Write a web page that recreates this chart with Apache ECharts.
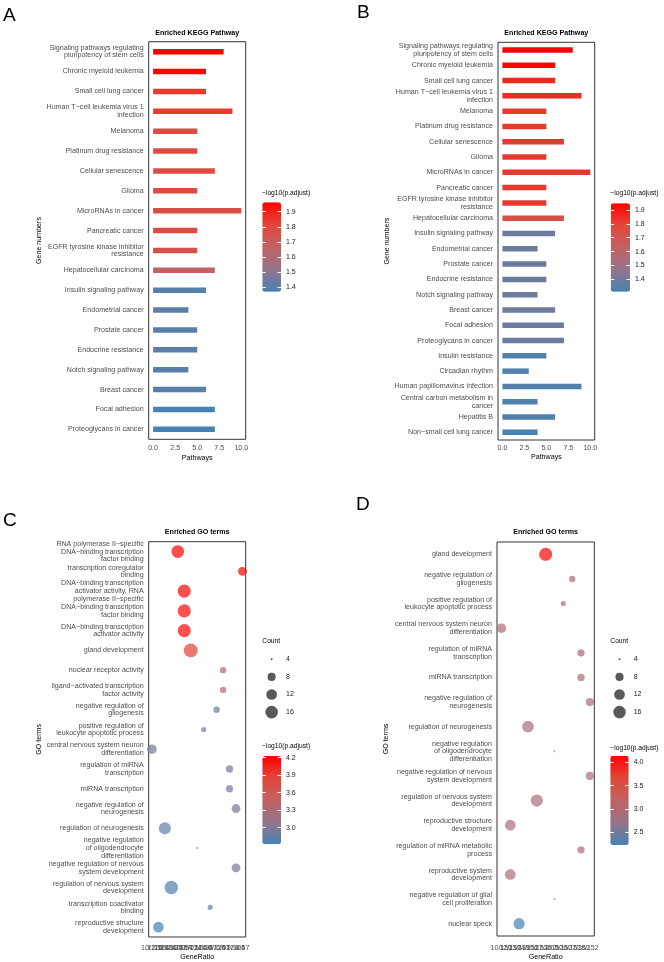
<!DOCTYPE html>
<html>
<head>
<meta charset="utf-8">
<script src="https://cdn.jsdelivr.net/npm/echarts@6/dist/echarts.min.js"></script>
<style>
html, body { margin: 0; padding: 0; background: #fff; }
#main { width: 664px; height: 962px; }
</style>
</head>
<body>
<div id="main"></div>
<script>
// ---- panel A / B : KEGG bars ----
var keggA = ['Signaling pathways regulating\npluripotency of stem cells', 'Chronic myeloid leukemia', 'Small cell lung cancer',
  'Human T\u2212cell leukemia virus 1\ninfection', 'Melanoma', 'Platinum drug resistance', 'Cellular senescence', 'Glioma',
  'MicroRNAs in cancer', 'Pancreatic cancer', 'EGFR tyrosine kinase inhibitor\nresistance', 'Hepatocellular carcinoma',
  'Insulin signaling pathway', 'Endometrial cancer', 'Prostate cancer', 'Endocrine resistance', 'Notch signaling pathway',
  'Breast cancer', 'Focal adhesion', 'Proteoglycans in cancer'];
var countA = [8, 6, 6, 9, 5, 5, 7, 5, 10, 5, 5, 7, 6, 4, 5, 5, 4, 6, 7, 7];
var padjA = [1.962, 1.955, 1.84, 1.84, 1.78, 1.78, 1.78, 1.78, 1.78, 1.78, 1.76, 1.68, 1.40, 1.405, 1.41, 1.41, 1.41, 1.40, 1.371, 1.371];

var keggB = keggA.concat(['Insulin resistance', 'Circadian rhythm', 'Human papillomavirus infection',
  'Central carbon metabolism in\ncancer', 'Hepatitis B', 'Non\u2212small cell lung cancer']);
var countB = [8, 6, 6, 9, 5, 5, 7, 5, 10, 5, 5, 7, 6, 4, 5, 5, 4, 6, 7, 7, 5, 3, 9, 4, 6, 4];
var padjB = [1.948, 1.945, 1.86, 1.85, 1.82, 1.82, 1.82, 1.82, 1.82, 1.82, 1.82, 1.74, 1.39, 1.39, 1.39, 1.39, 1.39, 1.39, 1.39, 1.39,
  1.335, 1.335, 1.335, 1.335, 1.335, 1.311];
var pathwayTicks = [0, 2.5, 5, 7.5, 10];

// ---- panel C / D : GO dots ----
var goC = ['RNA polymerase II\u2212specific\nDNA\u2212binding transcription\nfactor binding', 'transcription coregulator\nbinding',
  'DNA\u2212binding transcription\nactivator activity, RNA\npolymerase II\u2212specific', 'DNA\u2212binding transcription\nfactor binding',
  'DNA\u2212binding transcription\nactivator activity', 'gland development', 'nuclear receptor activity',
  'ligand\u2212activated transcription\nfactor activity', 'negative regulation of\ngliogenesis',
  'positive regulation of\nleukocyte apoptotic process', 'central nervous system neuron\ndifferentiation',
  'regulation of miRNA\ntranscription', 'miRNA transcription', 'negative regulation of\nneurogenesis',
  'regulation of neurogenesis', 'negative regulation\nof oligodendrocyte\ndifferentiation',
  'negative regulation of nervous\nsystem development', 'regulation of nervous system\ndevelopment',
  'transcription coactivator\nbinding', 'reproductive structure\ndevelopment'];
var ratioTicksC = ['10/124', '12/124', '15/124', '18/124', '16/57', '17/57', '19/124', '4/124', '5/124', '5/57', '6/124', '6/57', '7/124', '9/124', '9/57'];
var ratioC = ['16/57', '9/57', '17/57', '17/57', '17/57', '19/124', '6/57', '6/57', '6/124', '5/124', '10/124', '7/124', '7/124',
  '9/124', '15/124', '4/124', '9/124', '18/124', '5/57', '12/124'];
var countC = [16, 9, 17, 17, 17, 19, 6, 6, 6, 5, 10, 7, 7, 9, 15, 4, 9, 18, 5, 12];
var padjC = [4.229, 4.22, 4.2, 4.2, 4.2, 3.9, 3.4, 3.4, 2.9, 2.88, 2.95, 2.95, 2.95, 2.95, 2.85, 2.85, 2.95, 2.78, 2.78, 2.715];

var goD = ['gland development', 'negative regulation of\ngliogenesis', 'positive regulation of\nleukocyte apoptotic process',
  'central nervous system neuron\ndifferentiation', 'regulation of miRNA\ntranscription', 'miRNA transcription',
  'negative regulation of\nneurogenesis', 'regulation of neurogenesis', 'negative regulation\nof oligodendrocyte\ndifferentiation',
  'negative regulation of nervous\nsystem development', 'regulation of nervous system\ndevelopment',
  'reproductive structure\ndevelopment', 'regulation of miRNA metabolic\nprocess', 'reproductive system\ndevelopment',
  'negative regulation of glial\ncell proliferation', 'nuclear speck'];
var ratioTicksD = ['10/152', '12/152', '13/139', '14/152', '15/152', '17/152', '4/152', '5/152', '6/152', '7/152', '8/152'];
var ratioD = ['17/152', '6/152', '5/152', '10/152', '7/152', '7/152', '8/152', '14/152', '4/152', '8/152', '15/152', '12/152',
  '7/152', '12/152', '4/152', '13/139'];
var countD = [17, 6, 5, 10, 7, 7, 8, 14, 4, 8, 15, 12, 7, 12, 4, 13];
var padjD = [4.141, 2.95, 2.95, 2.93, 2.95, 2.95, 2.93, 2.92, 2.93, 2.93, 2.92, 2.92, 2.93, 2.92, 2.93, 2.228];

var sizeBreaks = [4, 8, 12, 16];
var ticksAB = [1.4, 1.5, 1.6, 1.7, 1.8, 1.9];
var ticksC = [3.0, 3.3, 3.6, 3.9, 4.2];
var ticksD = [2.5, 3.0, 3.5, 4.0];

var FONT = 'Liberation Sans, Arial, sans-serif';
var grad = ['#4682B4', '#95748A', '#C16262', '#E2473A', '#FF0000'];
var AX = '#4D4D4D';

function sz(c) { return 2 + 11.5 * Math.sqrt(Math.max(0, c - 4) / 14); }

var chart = echarts.init(document.getElementById('main'));

function box(l, t, w, h) {
  return { left: l, top: t, width: w, height: h, show: true, borderColor: '#333', borderWidth: 1, backgroundColor: 'transparent' };
}
function plain(l, t, w, h) { return { left: l, top: t, width: w, height: h }; }

function catY(gi, data, gap) {
  return {
    gridIndex: gi, type: 'category', data: data, inverse: true,
    name: gi < 2 ? 'Gene numbers' : 'GO terms', nameLocation: 'middle', nameGap: gap,
    nameTextStyle: { fontFamily: FONT, fontSize: 7.1, color: '#000' },
    axisLine: { show: false },
    axisTick: { alignWithLabel: true, length: 3, lineStyle: { color: '#333' } },
    axisLabel: { interval: 0, fontFamily: FONT, fontSize: 7.1, lineHeight: 7.6, color: AX, margin: 5 }
  };
}
function valX(gi, gap, margin) {
  return {
    gridIndex: gi, type: 'value', min: -0.5, max: 10.5, name: 'Pathways', nameLocation: 'middle', nameGap: gap,
    nameTextStyle: { fontFamily: FONT, fontSize: 7.1, color: '#000' },
    axisLine: { show: false }, splitLine: { show: false },
    axisTick: { length: 3, lineStyle: { color: '#333' }, customValues: pathwayTicks },
    axisLabel: { customValues: pathwayTicks, formatter: function (v) { return v.toFixed(1); },
      fontFamily: FONT, fontSize: 7.1, color: AX, margin: margin }
  };
}
function catX(gi, data, gap, margin) {
  return {
    gridIndex: gi, type: 'category', data: data, name: 'GeneRatio', nameLocation: 'middle', nameGap: gap,
    nameTextStyle: { fontFamily: FONT, fontSize: 7.1, color: '#000' },
    axisLine: { show: false },
    axisTick: { alignWithLabel: true, interval: 0, length: 3, lineStyle: { color: '#333' } },
    axisLabel: { interval: 0, fontFamily: FONT, fontSize: 7.1, color: AX, margin: margin }
  };
}
// colour bar tick axes (white ticks on both edges, labels on the right)
function cbAxes(gi, min, max, ticks, dec) {
  var tick = { inside: true, length: 3.5, lineStyle: { color: '#fff', width: 1 }, customValues: ticks };
  return [
    { gridIndex: gi, type: 'value', min: min, max: max, position: 'left', z: 10, axisLine: { show: false },
      splitLine: { show: false }, axisTick: tick, axisLabel: { show: false } },
    { gridIndex: gi, type: 'value', min: min, max: max, position: 'right', z: 10, axisLine: { show: false },
      splitLine: { show: false }, axisTick: tick,
      axisLabel: { customValues: ticks, formatter: function (v) { return v.toFixed(dec); },
        fontFamily: FONT, fontSize: 7, color: '#1a1a1a', margin: 5 } }
  ];
}
function sizeY(gi) {
  return { gridIndex: gi, type: 'category', data: sizeBreaks.map(String), inverse: true, position: 'right',
    axisLine: { show: false }, axisTick: { show: false },
    axisLabel: { fontFamily: FONT, fontSize: 7, color: '#1a1a1a', margin: 5 } };
}
function vmap(si, dim, min, max, l, t, w, h) {
  return { type: 'continuous', seriesIndex: si, dimension: dim, min: min, max: max, calculable: false, hoverLink: false,
    inRange: { color: grad }, itemWidth: w, itemHeight: h, left: l, top: t, padding: 0 };
}
function txt(x, y, s, size, bold, align) {
  return { type: 'text', x: x, y: y, z: 100,
    style: { text: s, fontFamily: FONT, fontSize: size, fontWeight: bold ? 'bold' : 'normal', fill: '#000',
      align: align || 'left', verticalAlign: 'middle' } };
}

var yC = [catY(2, goC, 106.5)], yD = [catY(3, goD, 107)];

var option = {
  animation: false,
  backgroundColor: '#fff',
  grid: [
    box(148.7, 41.7, 97, 397.6), box(498, 42.3, 96.7, 397.7),
    box(148.7, 541.7, 97, 395.3), box(497, 542, 97.3, 394),
    plain(262.3, 650.5, 18.7, 70.4), plain(610.3, 650.5, 18.4, 70.4),
    plain(262.3, 202.3, 18.7, 89.4), plain(610.7, 203.3, 19.3, 88.4),
    plain(262.3, 756, 18.7, 88.3), plain(610.3, 755.7, 18.4, 89.3)
  ],
  xAxis: [
    valX(0, 15, 5.5), valX(1, 13.5, 5),
    catX(2, ratioTicksC, 16.5, 7.5), catX(3, ratioTicksD, 18, 8.5),
    { gridIndex: 4, type: 'category', data: ['k'], show: false },
    { gridIndex: 5, type: 'category', data: ['k'], show: false },
    { gridIndex: 6, type: 'value', show: false }, { gridIndex: 7, type: 'value', show: false },
    { gridIndex: 8, type: 'value', show: false }, { gridIndex: 9, type: 'value', show: false }
  ],
  yAxis: [catY(0, keggA, 106), catY(1, keggB, 107), yC[0], yD[0], sizeY(4), sizeY(5)]
    .concat(cbAxes(6, 1.371, 1.962, ticksAB, 1))
    .concat(cbAxes(7, 1.311, 1.948, ticksAB, 1))
    .concat(cbAxes(8, 2.715, 4.229, ticksC, 1))
    .concat(cbAxes(9, 2.228, 4.141, ticksD, 1)),
  visualMap: [
    vmap(0, 2, 1.371, 1.962, 262.3, 202.3, 18.7, 89.4),
    vmap(1, 2, 1.311, 1.948, 610.7, 203.3, 19.3, 88.4),
    vmap(2, 3, 2.715, 4.229, 262.3, 756, 18.7, 88.3),
    vmap(3, 3, 2.228, 4.141, 610.3, 755.7, 18.4, 89.3)
  ],
  series: [
    { type: 'bar', xAxisIndex: 0, yAxisIndex: 0, barWidth: 5.5, encode: { x: 0, y: 1 },
      data: keggA.map(function (n, i) { return [countA[i], n, padjA[i]]; }) },
    { type: 'bar', xAxisIndex: 1, yAxisIndex: 1, barWidth: 5.5, encode: { x: 0, y: 1 },
      data: keggB.map(function (n, i) { return [countB[i], n, padjB[i]]; }) },
    { type: 'scatter', xAxisIndex: 2, yAxisIndex: 2, encode: { x: 0, y: 1 }, itemStyle: { opacity: 0.7 },
      symbolSize: function (d) { return sz(d[2]); },
      data: goC.map(function (n, i) { return [ratioC[i], n, countC[i], padjC[i]]; }) },
    { type: 'scatter', xAxisIndex: 3, yAxisIndex: 3, encode: { x: 0, y: 1 }, itemStyle: { opacity: 0.7 },
      symbolSize: function (d) { return sz(d[2]); },
      data: goD.map(function (n, i) { return [ratioD[i], n, countD[i], padjD[i]]; }) },
    { type: 'scatter', xAxisIndex: 4, yAxisIndex: 4, itemStyle: { color: '#000', opacity: 0.65 },
      symbolSize: function (d) { return sz(d[2]); },
      data: sizeBreaks.map(function (v) { return ['k', String(v), v]; }) },
    { type: 'scatter', xAxisIndex: 5, yAxisIndex: 5, itemStyle: { color: '#000', opacity: 0.65 },
      symbolSize: function (d) { return sz(d[2]); },
      data: sizeBreaks.map(function (v) { return ['k', String(v), v]; }) }
  ],
  graphic: [
    txt(3, 15.5, 'A', 19), txt(357, 13, 'B', 19), txt(3, 521, 'C', 19), txt(356, 504.5, 'D', 19),
    txt(197.2, 32.7, 'Enriched KEGG Pathway', 7.1, true, 'center'),
    txt(546.3, 32.7, 'Enriched KEGG Pathway', 7.1, true, 'center'),
    txt(197.2, 532.3, 'Enriched GO terms', 7.1, true, 'center'),
    txt(545.6, 532.3, 'Enriched GO terms', 7.1, true, 'center'),
    txt(262, 193.5, '\u2212log10(p.adjust)', 6.7), txt(610.3, 193.5, '\u2212log10(p.adjust)', 6.7),
    txt(262, 746.5, '\u2212log10(p.adjust)', 6.7), txt(610.3, 748, '\u2212log10(p.adjust)', 6.7),
    txt(262.3, 641.3, 'Count', 6.7), txt(610.3, 641.3, 'Count', 6.7)
  ]
};

chart.setOption(option);
</script>
</body>
</html>
